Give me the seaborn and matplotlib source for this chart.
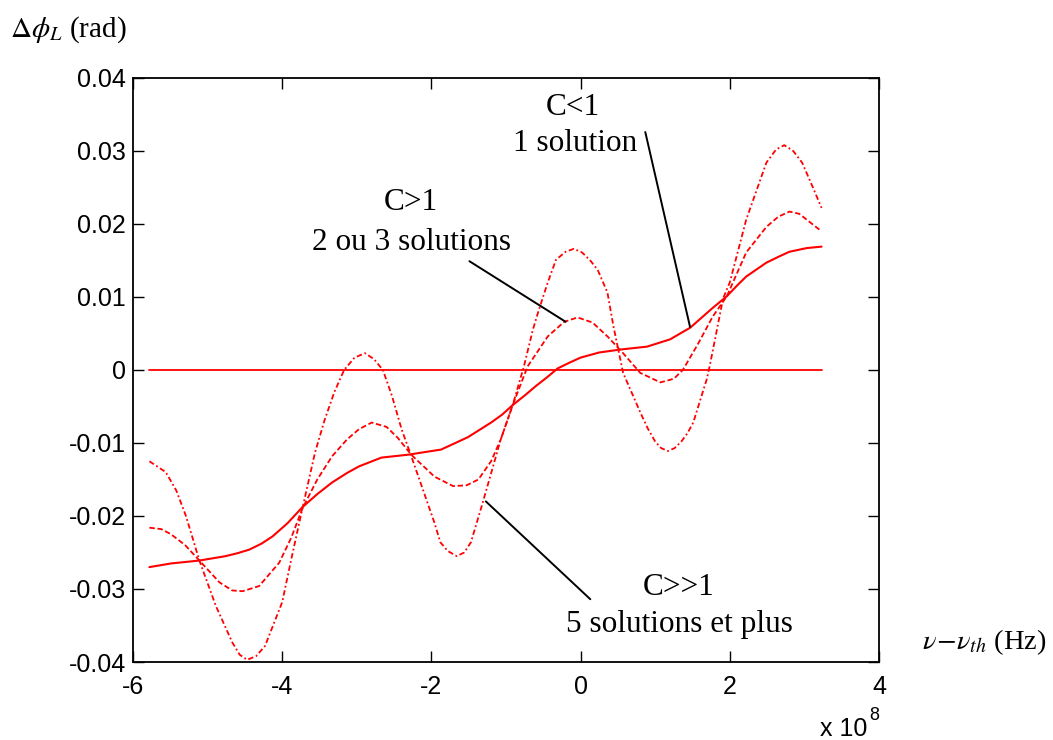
import numpy as np
import matplotlib
matplotlib.use('Agg')
import matplotlib.pyplot as plt
import seaborn as sns

# x in units of 1e8 Hz, y in rad
x_c1 = [-5.78, -5.49, -5.30, -5.11, -4.76, -4.60, -4.44, -4.28, -4.13, -3.93,
        -3.73, -3.53, -3.33, -3.13, -2.97, -2.67, -2.31, -1.87, -1.51, -1.20,
        -1.05, -0.91, -0.75, -0.60, -0.45, -0.31, -0.15, 0.00, 0.25, 0.53,
        0.89, 1.20, 1.47, 1.77, 1.96, 2.10, 2.22, 2.49, 2.65, 2.80, 3.03, 3.23]
y_c1 = [-0.0270, -0.0265, -0.0263, -0.0261, -0.0255, -0.0251, -0.0246, -0.0238, -0.0228, -0.0210,
        -0.0188, -0.0170, -0.0154, -0.0141, -0.0132, -0.0120, -0.0116, -0.0109, -0.0092, -0.0072,
        -0.0061, -0.0048, -0.0035, -0.0022, -0.0010, 0.0002, 0.0010, 0.0017, 0.0024, 0.0028,
        0.0032, 0.0042, 0.0058, 0.0085, 0.0101, 0.0116, 0.0128, 0.0147, 0.0155, 0.0162, 0.0167, 0.0169]

x_c2 = [-5.78, -5.62, -5.49, -5.30, -5.11, -4.84, -4.67, -4.53, -4.31, -4.04,
        -3.88, -3.73, -3.53, -3.33, -3.13, -2.97, -2.80, -2.60, -2.45, -2.27,
        -1.96, -1.71, -1.53, -1.37, -1.20, -1.07, -0.91, -0.71, -0.44, -0.22,
        -0.04, 0.16, 0.36, 0.57, 0.80, 1.07, 1.25, 1.37, 1.57, 1.77,
        1.96, 2.22, 2.49, 2.65, 2.80, 2.93, 3.03, 3.23]
y_c2 = [-0.0216, -0.0218, -0.0225, -0.0240, -0.0261, -0.0291, -0.0302, -0.0303, -0.0296, -0.0264,
        -0.0230, -0.0190, -0.0150, -0.0118, -0.0095, -0.0081, -0.0072, -0.0078, -0.0093, -0.0116,
        -0.0146, -0.0159, -0.0158, -0.0150, -0.0125, -0.0095, -0.0048, 0.0005, 0.0046, 0.0066,
        0.0072, 0.0065, 0.0046, 0.0023, -0.0004, -0.0017, -0.0012, 0.0000, 0.0035, 0.0073,
        0.0101, 0.0161, 0.0196, 0.0210, 0.0217, 0.0214, 0.0206, 0.0190]

x_c3 = [-5.78, -5.56, -5.42, -5.29, -5.11, -4.89, -4.67, -4.57, -4.47, -4.35,
        -4.23, -4.00, -3.88, -3.73, -3.56, -3.43, -3.30, -3.17, -3.03, -2.89,
        -2.77, -2.65, -2.53, -2.40, -2.27, -1.96, -1.88, -1.78, -1.66, -1.56,
        -1.47, -1.31, -1.07, -0.91, -0.76, -0.64, -0.57, -0.44, -0.33, -0.20,
        -0.09, 0.02, 0.13, 0.23, 0.36, 0.44, 0.57, 0.80, 0.90, 1.00,
        1.08, 1.17, 1.26, 1.35, 1.43, 1.51, 1.69, 1.73, 1.91, 2.00,
        2.22, 2.49, 2.62, 2.73, 2.85, 2.97, 3.11, 3.23]
y_c3 = [-0.0125, -0.0140, -0.0165, -0.0200, -0.0261, -0.0323, -0.0373, -0.0390, -0.0397, -0.0392,
        -0.0378, -0.0318, -0.0260, -0.0190, -0.0113, -0.0068, -0.0030, 0.0000, 0.0017, 0.0023,
        0.0015, 0.0000, -0.0035, -0.0081, -0.0118, -0.0209, -0.0236, -0.0248, -0.0255, -0.0250,
        -0.0236, -0.0181, -0.0095, -0.0048, 0.0005, 0.0055, 0.0079, 0.0120, 0.0151, 0.0162,
        0.0166, 0.0161, 0.0150, 0.0137, 0.0106, 0.0060, -0.0004, -0.0058, -0.0080, -0.0098,
        -0.0107, -0.0111, -0.0107, -0.0098, -0.0087, -0.0072, -0.0013, 0.0005, 0.0098, 0.0120,
        0.0206, 0.0284, 0.0302, 0.0308, 0.0300, 0.0284, 0.0251, 0.0222]

x_zero = [-5.78, 3.23]
y_zero = [0.0, 0.0]

x_ticks = [-6, -4, -2, 0, 2, 4]
x_ticklabels = ['-6', '-4', '-2', '0', '2', '4']
y_ticks = [-0.04, -0.03, -0.02, -0.01, 0, 0.01, 0.02, 0.03, 0.04]
y_ticklabels = ['-0.04', '-0.03', '-0.02', '-0.01', '0', '0.01', '0.02', '0.03', '0.04']

sns.set_style('ticks')
plt.rcParams['font.family'] = ['Liberation Sans', 'DejaVu Sans']
plt.rcParams['mathtext.fontset'] = 'stix'
plt.rcParams['text.color'] = 'black'

W, H = 1053, 740
fig = plt.figure(figsize=(W / 100, H / 100), dpi=100)
ax = fig.add_axes([133 / W, 1 - 662 / H, (879 - 133) / W, (662 - 78) / H])

red = '#ff0000'
sns.lineplot(x=x_zero, y=y_zero, ax=ax, color=red, linewidth=1.3, sort=False, estimator=None)
sns.lineplot(x=x_c1, y=y_c1, ax=ax, color=red, linewidth=1.5, sort=False, estimator=None)
l2 = sns.lineplot(x=x_c2, y=y_c2, ax=ax, color=red, linewidth=1.3, sort=False, estimator=None).lines[-1]
l2.set_dashes((3, 1.5))
l3 = sns.lineplot(x=x_c3, y=y_c3, ax=ax, color=red, linewidth=1.3, sort=False, estimator=None).lines[-1]
l3.set_dashes((3, 1.5, 1, 1.5))

ax.set_xlim(-6, 4)
ax.set_ylim(-0.04, 0.04)
ax.set_xticks(x_ticks)
ax.set_xticklabels(x_ticklabels)
ax.set_yticks(y_ticks)
ax.set_yticklabels(y_ticklabels)
ax.tick_params(direction='in', length=8, width=1, top=True, right=True,
               labelsize=18, colors='black')
ax.tick_params(axis='x', pad=9)
ax.tick_params(axis='y', pad=5)
for s in ax.spines.values():
    s.set_linewidth(1.3)
    s.set_color('black')

serif = ['Liberation Serif', 'DejaVu Serif']
ann = dict(ha='center', va='center', fontsize=22.5, family=serif, color='black')

# annotations
ax.plot([0.867, 1.467], [0.0326, 0.0059], color='black', linewidth=1.4)
ax.text(-0.10, 0.0360, 'C<1', **ann)
ax.text(-0.08, 0.0310, '1 solution', **ann)

ax.plot([-1.49, -0.20], [0.0149, 0.0066], color='black', linewidth=1.4)
ax.text(-2.27, 0.0230, 'C>1', **ann)
ax.text(-2.27, 0.0175, '2 ou 3 solutions', **ann)

ax.plot([-1.27, 0.13], [-0.0180, -0.0314], color='black', linewidth=1.4)
ax.text(1.32, -0.0298, 'C>>1', **ann)
ax.text(1.32, -0.0348, '5 solutions et plus', **ann)

# axis labels
fig.text(10 / W, 1 - 30 / H, r'$\Delta\phi_L$ (rad)', ha='left', va='center',
         fontsize=21, family=serif)
fig.text(922 / W, 1 - 642 / H, r'$\nu\!-\!\nu_{th}$ (Hz)', ha='left', va='center',
         fontsize=20.5, family=serif)
fig.text(820 / W, 1 - 729 / H, 'x 10', ha='left', va='center', fontsize=18)
fig.text(869 / W, 1 - 716 / H, '8', ha='left', va='center', fontsize=13)

fig.savefig('out.png', dpi=100)
